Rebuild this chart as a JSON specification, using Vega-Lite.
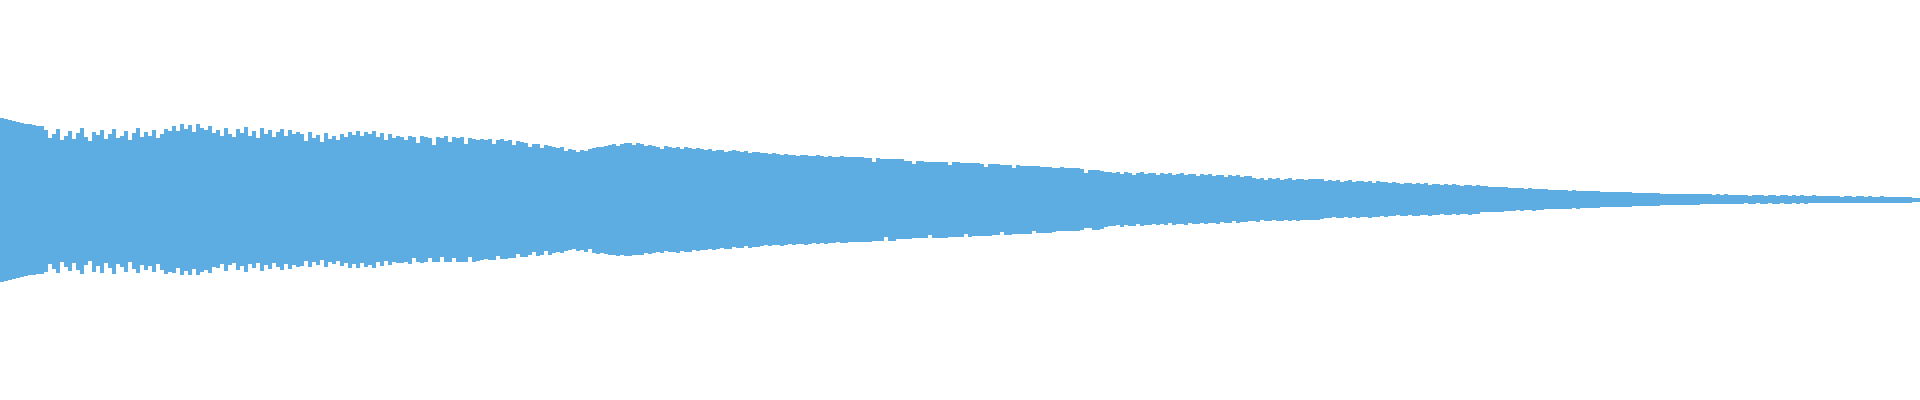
{
  "$schema": "https://vega.github.io/schema/vega-lite/v6.json",
  "width": 1920,
  "height": 400,
  "autosize": {"type": "fit", "contains": "padding"},
  "padding": 0,
  "background": "white",
  "config": {"view": {"stroke": null}},
  "data": {
    "format": {"type": "csv", "parse": {"i": "number", "hi": "number", "lo": "number"}},
    "values": "i,hi,lo\n0,82,-82\n1,81,-81\n2,80,-80\n3,79,-79\n4,78,-78\n5,77,-77\n6,76,-76\n7,76,-75\n8,75,-75\n9,74,-74\n10,74,-74\n11,70,-72\n12,62,-64\n13,66,-69\n14,71,-73\n15,60,-62\n16,64,-67\n17,69,-71\n18,61,-63\n19,67,-70\n20,72,-74\n21,63,-65\n22,59,-61\n23,68,-72\n24,65,-66\n25,70,-73\n26,61,-63\n27,66,-68\n28,71,-74\n29,62,-64\n30,64,-67\n31,69,-72\n32,60,-62\n33,67,-69\n34,72,-73\n35,63,-65\n36,68,-70\n37,64,-66\n38,70,-72\n39,62,-64\n40,66,-70\n41,71,-74\n42,69,-72\n43,74,-73\n44,69,-68\n45,76,-75\n46,71,-71\n47,75,-75\n48,68,-69\n49,76,-75\n50,72,-72\n51,70,-70\n52,74,-73\n53,67,-67\n54,70,-68\n55,64,-64\n56,72,-71\n57,66,-65\n58,63,-63\n59,71,-70\n60,67,-66\n61,73,-72\n62,64,-64\n63,69,-68\n64,62,-63\n65,72,-71\n66,66,-65\n67,70,-69\n68,63,-63\n69,68,-67\n70,71,-70\n71,64,-64\n72,70,-69\n73,66,-65\n74,68,-67\n75,66,-66\n76,59,-61\n77,68,-67\n78,62,-62\n79,65,-65\n80,58,-60\n81,67,-67\n82,61,-62\n83,64,-64\n84,60,-61\n85,66,-66\n86,63,-63\n87,68,-68\n88,65,-64\n89,69,-68\n90,64,-63\n91,68,-67\n92,66,-65\n93,69,-68\n94,63,-62\n95,67,-66\n96,60,-61\n97,66,-65\n98,62,-62\n99,64,-63\n100,63,-63\n101,60,-62\n102,64,-64\n103,63,-58\n104,57,-62\n105,64,-63\n106,63,-62\n107,62,-58\n108,55,-62\n109,63,-62\n110,62,-57\n111,64,-62\n112,58,-62\n113,63,-58\n114,62,-62\n115,63,-62\n116,56,-62\n117,62,-57\n118,61,-62\n119,60,-61\n120,61,-60\n121,60,-59\n122,61,-60\n123,56,-60\n124,60,-56\n125,61,-59\n126,59,-59\n127,60,-58\n128,55,-58\n129,59,-54\n130,58,-57\n131,57,-57\n132,53,-55\n133,56,-52\n134,56,-56\n135,52,-55\n136,55,-51\n137,54,-55\n138,53,-53\n139,52,-52\n140,53,-53\n141,49,-51\n142,51,-50\n143,50,-49\n144,48,-51\n145,50,-50\n146,49,-52\n147,51,-49\n148,52,-53\n149,53,-54\n150,53,-53\n151,54,-54\n152,55,-55\n153,56,-55\n154,54,-56\n155,56,-55\n156,57,-56\n157,57,-56\n158,55,-55\n159,57,-55\n160,56,-55\n161,54,-53\n162,55,-54\n163,54,-53\n164,53,-52\n165,51,-53\n166,54,-51\n167,53,-52\n168,52,-52\n169,53,-53\n170,51,-51\n171,53,-52\n172,52,-52\n173,51,-50\n174,52,-51\n175,51,-50\n176,50,-50\n177,51,-49\n178,49,-50\n179,50,-49\n180,50,-48\n181,48,-49\n182,49,-49\n183,50,-47\n184,49,-48\n185,48,-48\n186,49,-46\n187,47,-48\n188,48,-47\n189,48,-47\n190,47,-46\n191,47,-45\n192,46,-46\n193,47,-45\n194,46,-45\n195,45,-46\n196,46,-45\n197,45,-44\n198,45,-45\n199,44,-44\n200,45,-44\n201,45,-45\n202,44,-44\n203,44,-43\n204,45,-44\n205,44,-43\n206,43,-44\n207,44,-43\n208,43,-43\n209,43,-42\n210,44,-43\n211,43,-43\n212,43,-42\n213,43,-42\n214,43,-42\n215,43,-42\n216,42,-42\n217,42,-42\n218,38,-41\n219,42,-41\n220,41,-41\n221,41,-37\n222,41,-41\n223,41,-41\n224,41,-39\n225,41,-39\n226,39,-39\n227,39,-39\n228,36,-38\n229,39,-38\n230,39,-38\n231,38,-38\n232,38,-35\n233,38,-38\n234,38,-38\n235,38,-38\n236,38,-38\n237,35,-37\n238,38,-37\n239,38,-37\n240,37,-37\n241,37,-34\n242,37,-37\n243,37,-36\n244,37,-36\n245,36,-36\n246,33,-36\n247,36,-36\n248,36,-35\n249,36,-35\n250,35,-32\n251,35,-35\n252,35,-35\n253,32,-34\n254,35,-34\n255,34,-34\n256,34,-34\n257,34,-34\n258,34,-31\n259,34,-33\n260,33,-33\n261,33,-33\n262,33,-33\n263,32,-32\n264,32,-31\n265,33,-31\n266,32,-31\n267,32,-31\n268,32,-31\n269,32,-31\n270,31,-30\n271,27,-28\n272,30,-28\n273,30,-30\n274,30,-30\n275,29,-29\n276,28,-27\n277,28,-26\n278,27,-26\n279,28,-25\n280,26,-27\n281,28,-25\n282,27,-26\n283,25,-26\n284,27,-24\n285,28,-26\n286,26,-25\n287,27,-25\n288,27,-24\n289,25,-25\n290,27,-24\n291,26,-25\n292,27,-23\n293,25,-25\n294,26,-24\n295,27,-24\n296,25,-25\n297,26,-23\n298,26,-24\n299,24,-24\n300,26,-23\n301,25,-24\n302,26,-23\n303,24,-23\n304,25,-24\n305,25,-22\n306,23,-23\n307,25,-23\n308,24,-21\n309,25,-23\n310,23,-22\n311,24,-22\n312,24,-21\n313,22,-21\n314,21,-22\n315,22,-20\n316,20,-21\n317,22,-21\n318,21,-20\n319,22,-21\n320,20,-21\n321,21,-20\n322,22,-21\n323,20,-20\n324,21,-21\n325,21,-20\n326,20,-20\n327,21,-20\n328,21,-20\n329,21,-20\n330,21,-19\n331,19,-18\n332,20,-18\n333,19,-17\n334,20,-18\n335,18,-18\n336,19,-17\n337,20,-18\n338,18,-17\n339,19,-18\n340,19,-17\n341,18,-17\n342,19,-18\n343,17,-17\n344,19,-17\n345,18,-16\n346,18,-17\n347,17,-16\n348,18,-16\n349,17,-15\n350,16,-16\n351,17,-16\n352,17,-15\n353,16,-16\n354,17,-16\n355,16,-15\n356,17,-15\n357,15,-16\n358,16,-15\n359,16,-15\n360,15,-14\n361,16,-15\n362,15,-15\n363,16,-14\n364,15,-15\n365,14,-14\n366,15,-14\n367,15,-15\n368,14,-14\n369,15,-14\n370,14,-12\n371,14,-12\n372,13,-12\n373,13,-12\n374,13,-12\n375,13,-12\n376,13,-11\n377,12,-11\n378,12,-11\n379,12,-10\n380,12,-11\n381,11,-10\n382,12,-10\n383,11,-11\n384,11,-10\n385,11,-10\n386,11,-9\n387,10,-9\n388,10,-9\n389,10,-9\n390,10,-9\n391,10,-9\n392,9,-9\n393,10,-8\n394,9,-9\n395,9,-8\n396,9,-8\n397,9,-8\n398,9,-8\n399,9,-8\n400,8,-7\n401,8,-7\n402,8,-7\n403,8,-7\n404,8,-7\n405,8,-7\n406,8,-7\n407,8,-7\n408,7,-6\n409,7,-6\n410,7,-6\n411,7,-6\n412,7,-6\n413,7,-6\n414,7,-6\n415,6,-5\n416,6,-5\n417,6,-5\n418,6,-5\n419,6,-5\n420,6,-5\n421,6,-5\n422,6,-5\n423,6,-5\n424,6,-5\n425,6,-4\n426,6,-4\n427,6,-4\n428,5,-4\n429,6,-4\n430,5,-4\n431,6,-4\n432,5,-4\n433,5,-4\n434,5,-4\n435,5,-4\n436,5,-3\n437,4,-4\n438,5,-4\n439,5,-3\n440,5,-4\n441,4,-4\n442,5,-3\n443,5,-4\n444,4,-4\n445,5,-3\n446,5,-4\n447,4,-4\n448,5,-3\n449,4,-4\n450,5,-3\n451,4,-4\n452,4,-3\n453,5,-3\n454,4,-3\n455,4,-3\n456,4,-3\n457,4,-3\n458,4,-3\n459,4,-3\n460,3,-3\n461,4,-3\n462,4,-3\n463,3,-3\n464,4,-3\n465,4,-3\n466,3,-3\n467,4,-3\n468,3,-3\n469,3,-3\n470,4,-3\n471,3,-3\n472,3,-3\n473,3,-3\n474,3,-3\n475,3,-3\n476,3,-3\n477,3,-3\n478,2,-2\n479,2,-2"
  },
  "mark": {"type": "bar", "color": "#5dade2"},
  "encoding": {
    "x": {"field": "i", "type": "ordinal", "axis": null, "scale": {"paddingInner": 0, "paddingOuter": 0}},
    "y": {"field": "hi", "type": "quantitative", "axis": null, "scale": {"domain": [-200, 200]}},
    "y2": {"field": "lo"}
  }
}
